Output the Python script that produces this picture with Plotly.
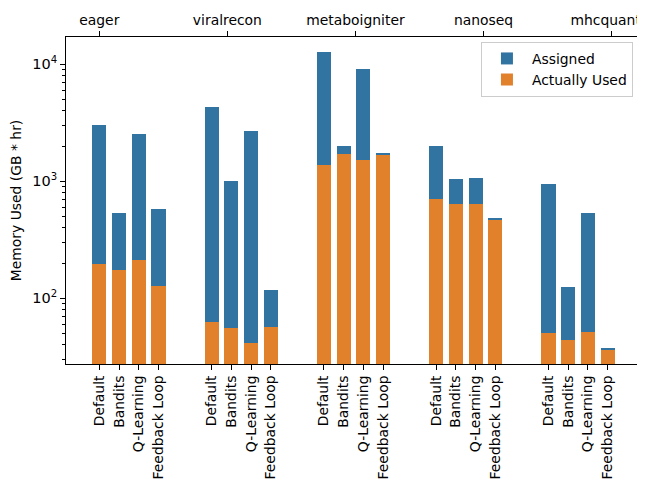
import plotly.graph_objects as go

workflows = ["eager", "viralrecon", "metaboigniter", "nanoseq", "mhcquant"]
methods = ["Default", "Bandits", "Q-Learning", "Feedback Loop"]

assigned = {
    "eager":         [3000, 540, 2520, 585],
    "viralrecon":    [4290, 996, 2670, 118],
    "metaboigniter": [12700, 1990, 9080, 1730],
    "nanoseq":       [1990, 1036, 1057, 487],
    "mhcquant":      [939, 125, 540, 37.6],
}
used = {
    "eager":         [198, 175, 214, 128],
    "viralrecon":    [63, 56, 41.5, 57],
    "metaboigniter": [1366, 1698, 1507, 1663],
    "nanoseq":       [712, 645, 633, 470],
    "mhcquant":      [50.6, 44, 51.7, 36.2],
}

BLUE = "#3274a1"
ORANGE = "#e1812c"
FONT = "DejaVu Sans"
FS = 13.9
GROUP_STEP = 5.7

xs, ys_a, ys_u, labels = [], [], [], []
for g, wf in enumerate(workflows):
    for j, m in enumerate(methods):
        xs.append(g * GROUP_STEP + j)
        ys_a.append(assigned[wf][j])
        ys_u.append(used[wf][j])
        labels.append(m)

fig = go.Figure()
fig.add_trace(go.Bar(x=xs, y=ys_a, name="Assigned", marker_color=BLUE,
                     marker_line_width=0, width=0.72))
fig.add_trace(go.Bar(x=xs, y=ys_u, name="Actually Used", marker_color=ORANGE,
                     marker_line_width=0, width=0.72))
# invisible traces to anchor the top axes
for ax in ("x2", "x3"):
    fig.add_trace(go.Scatter(x=[0], y=[100], xaxis=ax, mode="markers",
                             marker=dict(opacity=0), showlegend=False,
                             hoverinfo="skip"))

xr = [-1.69, 27.49]
top_ticks = [0, 6.5, 13, 19.5, 26]

minor_vals = [v * 10 ** e for e in (1, 2, 3) for v in range(2, 10)]

top_common = dict(overlaying="x", side="top", range=xr, tickmode="array",
                  showgrid=False, zeroline=False, showline=False,
                  tickfont=dict(size=FS), automargin=False,
                  ticklabeloverflow="allow", ticks="outside", ticklen=5,
                  tickwidth=1)

# page body has an 8px margin: figure is 8px smaller, margins shifted
fig.update_layout(
    width=637, height=475,
    margin=dict(l=58, r=4, t=29, b=119, autoexpand=False),
    paper_bgcolor="white", plot_bgcolor="white",
    barmode="overlay",
    font=dict(family=FONT, size=FS, color="black"),
    bargap=0,
    xaxis=dict(
        range=xr, tickmode="array", tickvals=xs, ticktext=labels,
        tickangle=-90, ticks="outside", ticklen=5, tickwidth=1, tickcolor="black",
        showline=True, linecolor="black", linewidth=1, mirror=True,
        showgrid=False, zeroline=False, tickfont=dict(size=FS),
        automargin=False, ticklabeloverflow="allow",
    ),
    xaxis2=dict(tickvals=top_ticks, ticktext=workflows[:4] + [""],
                tickcolor="black", **top_common),
    xaxis3=dict(tickvals=top_ticks[4:], ticktext=workflows[4:],
                tickcolor="rgba(0,0,0,0)", ticklabelshift=-6, **top_common),
    yaxis=dict(
        type="log", range=[1.439, 4.232],
        tickmode="array", tickvals=[100, 1000, 10000],
        ticktext=["10<sup>2</sup>", "10<sup>3</sup>", "10<sup>4</sup>"],
        ticks="outside", ticklen=5, tickwidth=1, tickcolor="black",
        minor=dict(tickmode="array", tickvals=minor_vals, ticks="outside",
                   ticklen=3, tickwidth=0.8, tickcolor="black", showgrid=False),
        showline=True, linecolor="black", linewidth=1, mirror=True,
        showgrid=False, zeroline=False, automargin=False,
        tickfont=dict(size=14.5),
        title=dict(text="Memory Used (GB * hr)", font=dict(size=FS), standoff=8),
    ),
    legend=dict(
        x=0.986, y=0.985, xanchor="right", yanchor="top",
        bgcolor="rgba(255,255,255,0.8)", bordercolor="#cccccc", borderwidth=1,
        font=dict(size=FS), itemwidth=40, tracegroupgap=2,
    ),
)

fig.write_html("out.html")
